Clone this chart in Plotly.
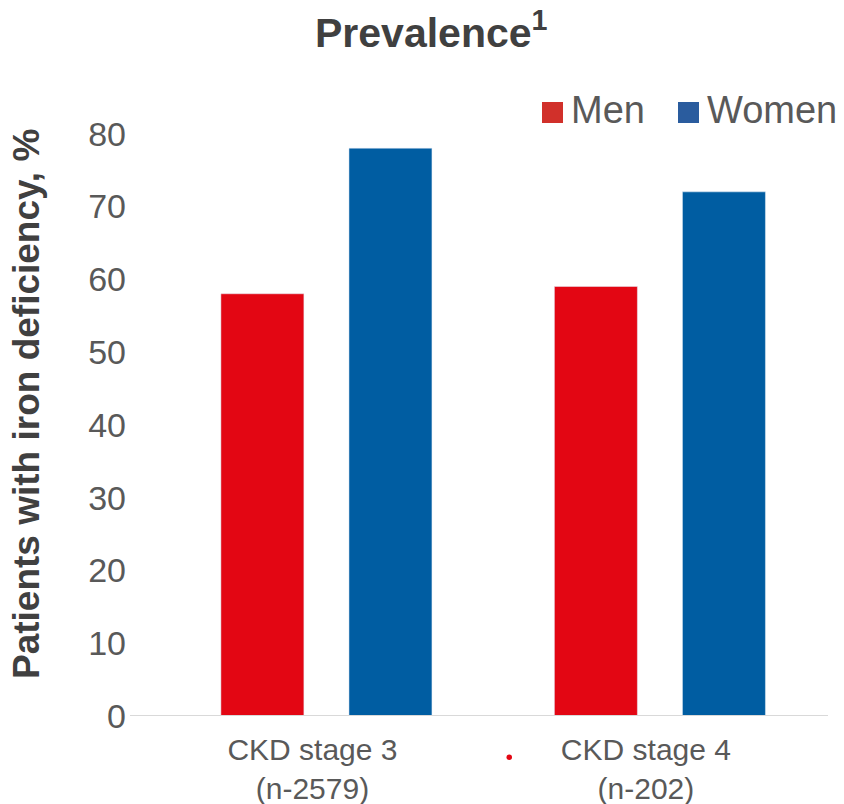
import plotly.graph_objects as go

# Iron deficiency prevalence by CKD stage and sex
categories = ["CKD stage 3<br>(n-2579)", "CKD stage 4<br>(n-202)"]
men = [58, 59]
women = [78, 72]
y_ticks = [0, 10, 20, 30, 40, 50, 60, 70, 80]

RED = "#E30613"
BLUE = "#005DA2"
GREY_TEXT = "#595959"
DARK_TEXT = "#404040"

W, H = 844, 804
L, R, T, B = 130, 16, 120, 88

fig = go.Figure()
fig.add_trace(go.Bar(name="Men", x=categories, y=men, marker_color=RED))
fig.add_trace(go.Bar(name="Women", x=categories, y=women, marker_color=BLUE))

fig.update_layout(
    width=W, height=H,
    margin=dict(l=L, r=R, t=T, b=B, autoexpand=False),
    paper_bgcolor="white", plot_bgcolor="white",
    barmode="group", bargap=0.232, bargroupgap=0.352,
    showlegend=False,
    font=dict(family="Liberation Sans, Arial, sans-serif", color=GREY_TEXT),
)

fig.update_xaxes(
    type="category", range=[-0.589, 1.504], automargin=False,
    showgrid=False, zeroline=False, ticks="",
    showline=False,
    tickfont=dict(size=30, color=GREY_TEXT),
    ticklabelstandoff=13, ticklabelshift=-14,
)
fig.update_yaxes(
    range=[0, 81.87], tickvals=y_ticks, automargin=False,
    showgrid=False, zeroline=False, showline=False, ticks="",
    tickfont=dict(size=34, color=GREY_TEXT),
    ticklabelstandoff=3,
)

# baseline along y = 0
fig.add_shape(type="line", xref="paper", yref="y", x0=0, x1=1, y0=0, y1=0,
              line=dict(color="#D9D9D9", width=2))

pw, ph = W - L - R, H - T - B
def px(xp):
    return (xp - L) / pw
def py(yp):
    return (H - B - yp) / ph

# chart title
fig.add_annotation(text="<b>Prevalence<sup>1</sup></b>", xref="paper", yref="paper",
                   x=px(431), y=py(30),
                   showarrow=False, xanchor="center", yanchor="middle",
                   font=dict(size=41, color=DARK_TEXT))

# y-axis title
fig.add_annotation(text="<b>Patients with iron deficiency, %</b>", xref="paper", yref="paper",
                   x=px(26), y=py(404),
                   showarrow=False, textangle=-90, xanchor="center", yanchor="middle",
                   font=dict(size=37, color=DARK_TEXT))

# legend
legend_items = [("Men", "#D1302A", 542), ("Women", "#2A5C9E", 678)]
for name, col, x0 in legend_items:
    fig.add_shape(type="rect", xref="paper", yref="paper",
                  x0=px(x0), x1=px(x0 + 21), y0=py(123), y1=py(102),
                  fillcolor=col, line=dict(width=0))
    fig.add_annotation(text=name, xref="paper", yref="paper",
                       x=px(x0 + 27), y=py(110), showarrow=False,
                       xanchor="left", yanchor="middle",
                       font=dict(size=38, color=GREY_TEXT))

# small red dot beside the second category label
fig.add_shape(type="circle", xref="paper", yref="paper",
              x0=px(506.5), x1=px(512), y0=py(760), y1=py(754.5),
              fillcolor=RED, line=dict(width=0))

fig.write_html("out.html")
